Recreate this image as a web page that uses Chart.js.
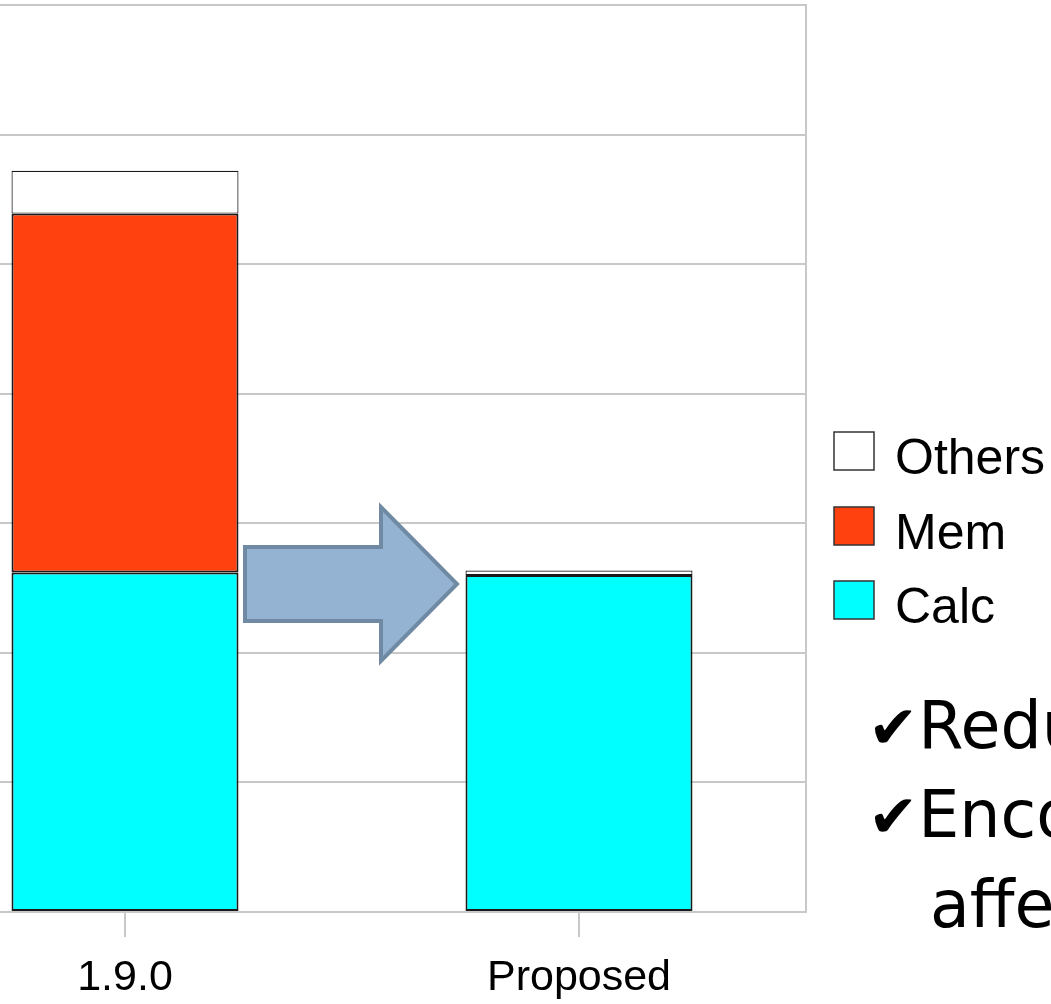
<!DOCTYPE html>
<html>
<head>
<meta charset="utf-8">
<script src="https://cdn.jsdelivr.net/npm/chart.js@4/dist/chart.umd.min.js"></script>
<style>
  html, body { margin: 0; padding: 0; width: 1051px; height: 1004px; overflow: hidden; background: #fff; }
  #wrap { position: absolute; left: -102px; top: 0; width: 1153px; height: 1004px; }
  .note { position: absolute; font-family: "DejaVu Sans", sans-serif; font-size: 65px; line-height: 1; color: #000; white-space: nowrap; }
  .tick { font-size: 60px; }
</style>
</head>
<body>
<div id="wrap"><canvas id="c" width="1153" height="1004"></canvas></div>
<div class="note" style="left:868px; top:693px;"><span class="tick">✔</span>Redu</div>
<div class="note" style="left:868px; top:782px;"><span class="tick">✔</span>Enco</div>
<div class="note" style="left:930px; top:872px;">affe</div>
<script>
// Categories and stacked series (bottom to top)
const categories = ["1.9.0", "Proposed"];
const calcValues = [2.62, 2.60];
const memValues = [2.77, 0];
const othersValues = [0.33, 0.035];
const yTicks = [0, 1, 2, 3, 4, 5, 6, 7];

const GRID = "#c8c8c8";

// Right-hand frame line of the plot area
const framePlugin = {
  id: "frame",
  beforeDatasetsDraw(chart) {
    const { ctx, chartArea } = chart;
    ctx.save();
    ctx.strokeStyle = GRID;
    ctx.lineWidth = 2;
    ctx.beginPath();
    ctx.moveTo(chartArea.right, chartArea.top - 1);
    ctx.lineTo(chartArea.right, chartArea.bottom + 1);
    ctx.stroke();
    ctx.restore();
  }
};

// Block arrow between the two bars
const arrowPlugin = {
  id: "arrow",
  afterDatasetsDraw(chart) {
    const ctx = chart.ctx;
    const ox = 102;
    const pts = [
      [245, 547], [381, 547], [381, 507], [457, 584],
      [381, 661], [381, 621], [245, 621]
    ];
    ctx.save();
    ctx.beginPath();
    pts.forEach(([x, y], i) => i ? ctx.lineTo(x + ox, y) : ctx.moveTo(x + ox, y));
    ctx.closePath();
    ctx.fillStyle = "#94b3d3";
    ctx.fill();
    ctx.strokeStyle = "#6f8aa2";
    ctx.lineWidth = 4;
    ctx.lineJoin = "miter";
    ctx.stroke();
    ctx.restore();
  }
};

// Legend listing the series top-down (Others, Mem, Calc)
const legendPlugin = {
  id: "sideLegend",
  afterDraw(chart) {
    const ctx = chart.ctx;
    const ox = 102;
    const rows = [451, 526, 600];
    const ds = chart.data.datasets.slice().reverse();
    ctx.save();
    ctx.font = "50px 'Liberation Sans', Arial, sans-serif";
    ctx.textBaseline = "middle";
    ds.forEach((d, i) => {
      const cy = rows[i];
      ctx.fillStyle = d.backgroundColor;
      ctx.fillRect(834 + ox, cy - 19, 40, 38);
      ctx.strokeStyle = "#333";
      ctx.lineWidth = 1.5;
      ctx.strokeRect(834 + ox, cy - 19, 40, 38);
      ctx.fillStyle = "#000";
      ctx.fillText(d.label, 895 + ox, cy + 9);
    });
    ctx.restore();
  }
};

const barStyle = { borderColor: "#1a1a1a", borderWidth: 2, borderSkipped: false, barPercentage: 0.5, categoryPercentage: 1.0 };

new Chart(document.getElementById("c"), {
  type: "bar",
  data: {
    labels: categories,
    datasets: [
      Object.assign({ label: "Calc", data: calcValues, backgroundColor: "#00ffff" }, barStyle),
      Object.assign({ label: "Mem", data: memValues, backgroundColor: "#ff4110" }, barStyle),
      Object.assign({ label: "Others", data: othersValues, backgroundColor: "#ffffff" }, barStyle, { borderWidth: 1.2 })
    ]
  },
  options: {
    responsive: false,
    animation: false,
    devicePixelRatio: 1,
    layout: { padding: { top: 5, right: 245, left: 0, bottom: 0 } },
    plugins: { legend: { display: false }, tooltip: { enabled: false } },
    scales: {
      x: {
        stacked: true,
        offset: true,
        border: { display: false },
        grid: { offset: false, drawOnChartArea: false, drawTicks: true, tickLength: 25, color: GRID, lineWidth: 2 },
        ticks: { color: "#000", padding: 15, font: { family: "'Liberation Sans', Arial, sans-serif", size: 43 } },
        afterFit(scale) { scale.height = 92; }
      },
      y: {
        stacked: true,
        min: yTicks[0],
        max: yTicks[yTicks.length - 1],
        border: { display: false },
        grid: { color: GRID, lineWidth: 2, drawTicks: false },
        ticks: { display: false, stepSize: 1 },
        afterBuildTicks(scale) { scale.ticks = yTicks.map(v => ({ value: v })); },
        afterFit(scale) { scale.width = 0; }
      }
    }
  },
  plugins: [framePlugin, arrowPlugin, legendPlugin]
});
</script>
</body>
</html>
